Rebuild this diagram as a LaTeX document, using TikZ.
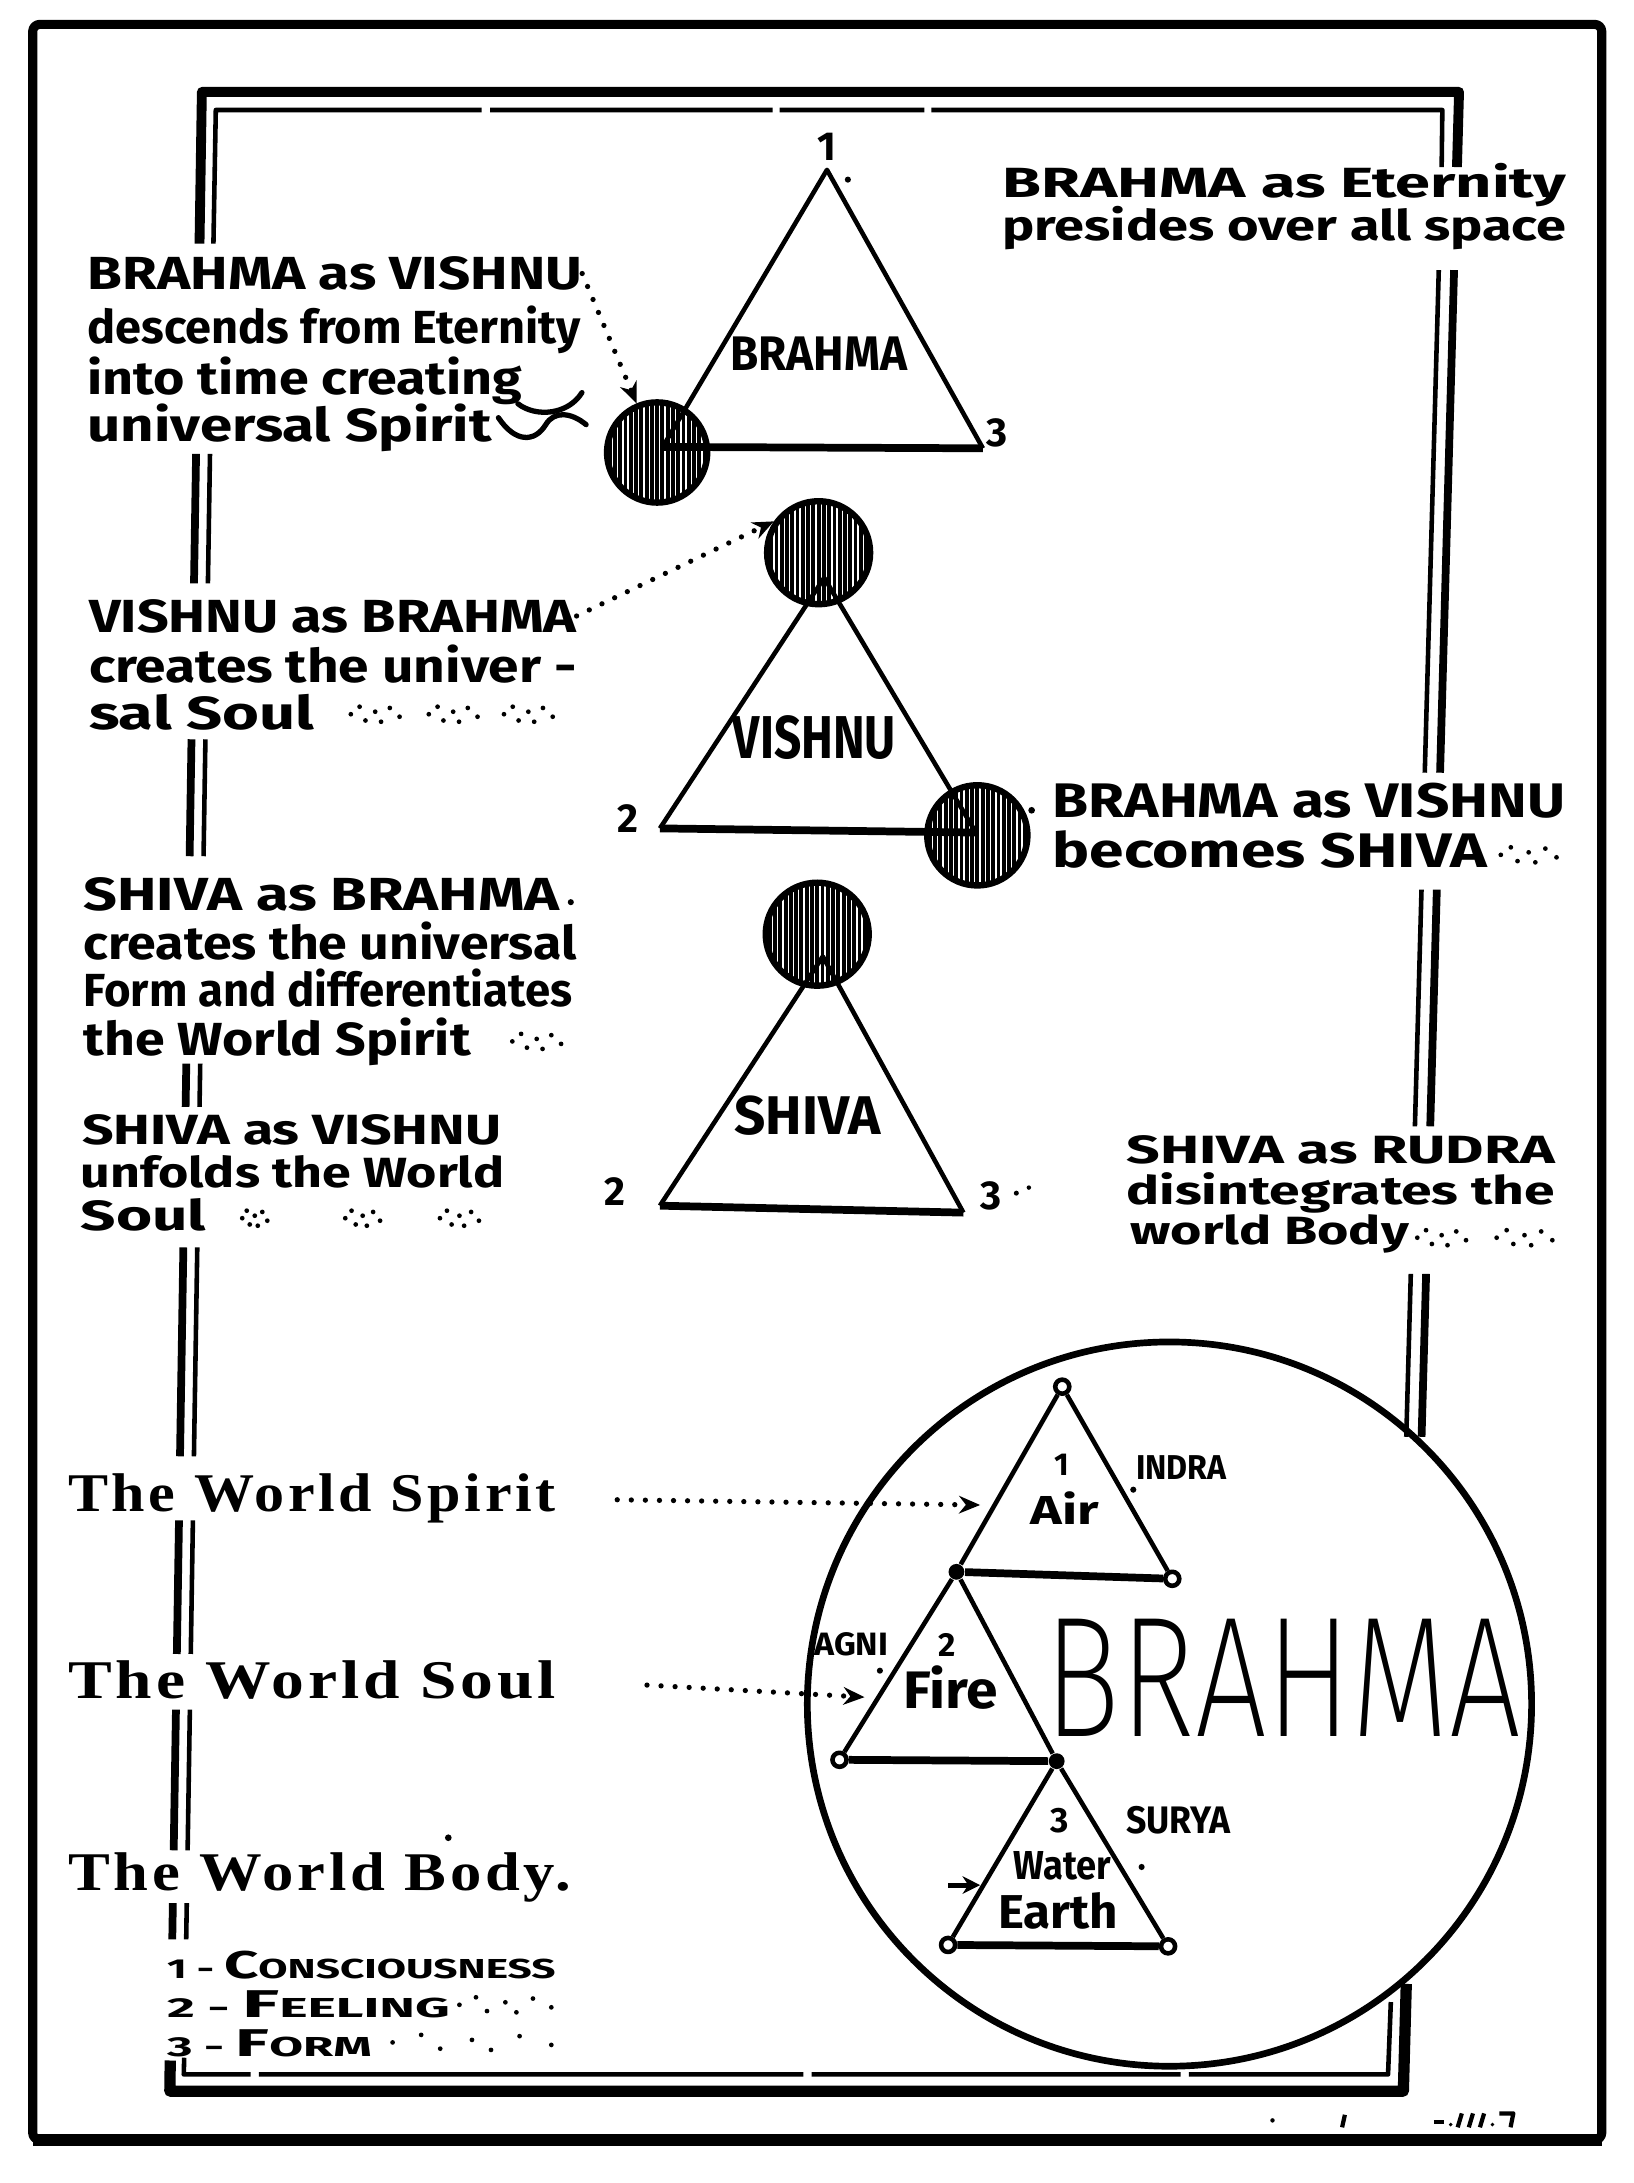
\documentclass[tikz,border=0pt]{standalone}
\usepackage{graphicx}
\usepackage{fontspec}
\setmainfont{Fira Sans}
\newfontfamily\decofont{Liberation Serif}[LetterSpace=6]
\IfFontExistsTF{Fira Sans ExtraLight}
  {\newfontfamily\thinfont{Fira Sans ExtraLight}}
  {\IfFontExistsTF{Fira Sans Light}{\newfontfamily\thinfont{Fira Sans Light}}{\newfontfamily\thinfont{Fira Sans}}}
\usetikzlibrary{arrows.meta}
\newsavebox\fitbox
\newdimen\fitdim
\newcommand\fitto[2]{\sbox\fitbox{#2}\fitdim=\wd\fitbox
  \pgfmathsetmacro\fitr{#1*0.39612/\fitdim}\scalebox{\fitr}[1]{\usebox\fitbox}}
\newcommand\fmain{\fontsize{13.2pt}{14pt}\selectfont\bfseries}
\newcommand\fsz[1]{\fontsize{#1}{#1}\selectfont\bfseries}
\newcommand\orn[3]{\foreach \f/\g in {0/0,0.18/-0.6,0.3/0.5,0.5/-0.2,0.62/0.6,0.8/-0.5,1/0.2}{\fill ({#1+\f*#3},{#2+\g*9}) circle[radius=1.7];}}
\begin{document}
\begin{tikzpicture}[x=0.013922cm, y=-0.013922cm, line join=round,
  txt/.style={anchor=base west, inner sep=0pt, outer sep=0pt, font=\fmain},
  ctxt/.style={anchor=base, inner sep=0pt, outer sep=0pt},
  frthick/.style={line width=2.8pt},
  frvert/.style={line width=2.2pt},
  frthin/.style={line width=1.3pt},
  side/.style={line width=1.3pt},
  basel/.style={line width=2.2pt},
  hatchc/.style={circle, draw, line width=1.8pt, minimum size={#1*0.39612pt}, inner sep=0pt,
     path picture={\foreach \k in {-22,...,22}{\draw[line width=1.1pt]
        ([xshift=\k*1.5pt]path picture bounding box.south) -- ([xshift=\k*1.5pt]path picture bounding box.north);}}},
  dotarrow/.style={line width=1.5pt, line cap=round, dash pattern=on 0pt off 4pt, -{Stealth[length=6pt,width=5pt]}},
  vring/.style={circle, draw, fill=white, line width=1.3pt, minimum size=4pt, inner sep=0pt},
  vdot/.style={circle, fill, minimum size=4.5pt, inner sep=0pt},
  deco/.style={line width=1.5pt, line cap=round}
]
\fill[white] (0,0) rectangle (1173,1568);
\useasboundingbox (0,0) rectangle (1173,1568);

% outer frame
\draw[line width=2.6pt, rounded corners=2pt] (23.5,17.5) rectangle (1150.5,1537);
\draw[line width=3.6pt] (23.5,1537) -- (1150.5,1537);

% inner frame
\draw[frthick] (143.3,175) -- (145,66) -- (1048,66) -- (1046.5,120);
\draw[frthin] (153.3,175) -- (155,79) -- (346,79) (352,79) -- (555,79) (560,79) -- (664,79) (669,79) -- (1036,79) -- (1035.5,120);
\foreach \ya/\yb in {326/419, 531/615, 764/795, 896/1046, 1092/1188, 1228/1329, 1367/1393}{
  \draw[frvert] ({145-0.016017*(\ya-66)},\ya) -- ({145-0.016017*(\yb-66)},\yb);
  \draw[frthin] ({155-0.016017*(\ya-66)},\ya) -- ({155-0.016017*(\yb-66)},\yb);
}
\foreach \ya/\yb in {194/555, 639/809, 915/1032}{
  \draw[frvert] ({1048-0.027855*(\ya-66)},\ya) -- ({1048-0.027855*(\yb-66)},\yb);
  \draw[frthin] ({1037-0.027855*(\ya-66)},\ya) -- ({1037-0.027855*(\yb-66)},\yb);
}
\draw[line width=3.2pt] (122.3,1480) -- (122,1502) -- (1008,1502) -- (1010.1,1425);
\draw[frthin] (132.3,1478) -- (132,1490) -- (180,1490) (186,1490) -- (577,1490) (583,1490) -- (848,1490) (854,1490) -- (997,1490) -- (999,1438);

% hatched circles
\node[hatchc=72] (h1) at (472,325) {};
\node[hatchc=74] (h2) at (588,397) {};
\node[hatchc=72] (h3) at (702,600) {};
\node[hatchc=74] (h4) at (587,671) {};

% triangle BRAHMA
\coordinate (t1a) at (594,122); \coordinate (t1l) at (476,321); \coordinate (t1r) at (706,322);
\draw[side] (t1l) -- (t1a) -- (t1r);
\draw[basel] (t1l) -- (t1r);
% triangle VISHNU
\coordinate (t2a) at (592,415); \coordinate (t2l) at (474,595); \coordinate (t2r) at (701,598);
\draw[side] (t2l) -- (t2a) -- (t2r);
\draw[basel] (t2l) -- (t2r);
% triangle SHIVA
\coordinate (t3a) at (591,687); \coordinate (t3l) at (474,866); \coordinate (t3r) at (692,871);
\draw[side] (t3l) -- (t3a) -- (t3r);
\draw[basel] (t3l) -- (t3r);

% triangle labels
\node[ctxt, font=\fsz{13.8pt}] (l1) at (588,266) {\fitto{127}{BRAHMA}};
\node[ctxt, font=\fsz{17.2pt}] (l2) at (585,545) {\fitto{117}{VISHNU}};
\node[ctxt, font=\fsz{15.5pt}] (l3) at (580,815) {\fitto{105}{SHIVA}};
\node[ctxt, font=\fsz{11.5pt}] (n11) at (594,115) {1};
\node[ctxt, font=\fsz{11.5pt}] (n13) at (716,321) {3};
\node[ctxt, font=\fsz{11.5pt}] (n22) at (451,598) {2};
\node[ctxt, font=\fsz{11.5pt}] (n32) at (442,866) {2};
\node[ctxt, font=\fsz{11.5pt}] (n33) at (712,869) {3};
\fill (609,129) circle[radius=2.2];
\fill (730,857) circle[radius=1.8]; \fill (739,853) circle[radius=1.6];
\fill (741,582) circle[radius=2.4];
\fill (410,648) circle[radius=2.2];

% left text blocks
\node[txt] (b1a) at (63,208) {\fitto{355}{BRAHMA as VISHNU}};
\node[txt] (b1b) at (63,247) {\fitto{354}{descends from Eternity}};
\node[txt] (b1c) at (63,283) {\fitto{312}{into time creating}};
\node[txt] (b1d) at (63,317) {\fitto{290}{universal Spirit}};
\draw[deco] (372,290) .. controls (385,300) and (408,298) .. (418,282);
\draw[deco] (358,300) .. controls (370,318) and (384,318) .. (392,305) .. controls (398,295) and (410,296) .. (421,305);

\node[txt] (b2a) at (64,454) {\fitto{350}{VISHNU as BRAHMA}};
\node[txt] (b2b) at (64,490) {\fitto{350}{creates the univer -}};
\node[txt] (b2c) at (64,524) {\fitto{162}{sal Soul}};
\orn{252}{513}{35} \orn{308}{513}{35} \orn{362}{513}{35}

\node[txt] (b3a) at (60,654) {\fitto{342}{SHIVA as BRAHMA}};
\node[txt] (b3b) at (60,689) {\fitto{354}{creates the universal}};
\node[txt] (b3c) at (60,723) {\fitto{351}{Form and differentiates}};
\node[txt] (b3d) at (60,758) {\fitto{278}{the World Spirit}};
\orn{368}{748}{35}

\node[txt, font=\fsz{12pt}] (b4a) at (59,822) {\fitto{301}{SHIVA as VISHNU}};
\node[txt, font=\fsz{12pt}] (b4b) at (58,853) {\fitto{304}{unfolds the World}};
\node[txt, font=\fsz{12pt}] (b4c) at (58,884) {\fitto{90}{Soul}};
\orn{174}{875}{18} \orn{248}{875}{25} \orn{316}{875}{28}

% right text blocks
\node[txt, font=\fsz{12pt}] (r1a) at (720,142) {\fitto{405}{BRAHMA as Eternity}};
\node[txt, font=\fsz{12pt}] (r1b) at (720,173) {\fitto{405}{presides over all space}};
\node[txt, font=\fsz{13.8pt}] (r2a) at (756,587) {\fitto{368}{BRAHMA as VISHNU}};
\node[txt, font=\fsz{13.8pt}] (r2b) at (756,623) {\fitto{312}{becomes SHIVA}};
\orn{1078}{614}{40}
\node[txt, font=\fsz{11.2pt}] (r3a) at (809,836) {\fitto{308}{SHIVA as RUDRA}};
\node[txt, font=\fsz{11.2pt}] (r3b) at (809,865) {\fitto{308}{disintegrates the}};
\node[txt, font=\fsz{11.2pt}] (r3c) at (812,894) {\fitto{200}{world Body}};
\orn{1018}{889}{35} \orn{1075}{889}{40}

% arrows to circles
\draw[dotarrow] (b1a.east) -- (h1);
\draw[dotarrow] (b2a.east) -- (h2.145);

% world texts
\node[txt, font={\decofont\bfseries\fontsize{15.5pt}{16pt}\selectfont}] (ws) at (49,1086) {\fitto{350}{The World Spirit}};
\node[txt, font={\decofont\bfseries\fontsize{15.5pt}{16pt}\selectfont}] (wso) at (49,1220) {\fitto{350}{The World Soul}};
\node[txt, font={\decofont\bfseries\fontsize{15.5pt}{16pt}\selectfont}] (wb) at (49,1358) {\fitto{361}{The World Body.}};
\fill (322,1320) circle[radius=2.4];

% legend
\node[txt] (g1) at (120,1421) {\fitto{279}{{\fsz{7.8pt}1 - }{\fsz{11pt}C}{\fsz{7.8pt}ONSCIOUSNESS}}};
\node[txt] (g2) at (120,1449) {\fitto{203}{{\fsz{7.8pt}2 - }{\fsz{11pt}F}{\fsz{7.8pt}EELING}}};
\node[txt] (g3) at (120,1477) {\fitto{147}{{\fsz{7.8pt}3 - }{\fsz{11pt}F}{\fsz{7.8pt}ORM}}};
\orn{330}{1440}{66} \orn{282}{1467}{114}

% big circle
\node[circle, draw, line width=1.9pt, minimum size={520*0.39612pt}, inner sep=0pt] (big) at (840,1224) {};
\node[vring] (A1) at (763,996) {};
\node[vdot] (A2) at (687,1129) {};
\node[vring] (A3) at (842,1134) {};
\node[vring] (F2) at (603,1264) {};
\node[vdot] (F3) at (759,1265) {};
\node[vring] (E2) at (681,1397) {};
\node[vring] (E3) at (839,1398) {};
\draw[side] (A2) -- (A1) -- (A3);
\draw[basel] (A2) -- (A3);
\draw[side] (F3) -- (A2) -- (F2);
\draw[basel] (F2) -- (F3);
\draw[side] (E2) -- (F3) -- (E3);
\draw[basel] (E2) -- (E3);

\node[ctxt, font=\fsz{9pt}] (c1) at (763,1060) {1};
\node[ctxt, font=\fsz{11.5pt}] (air) at (765,1095) {\fitto{49}{Air}};
\node[ctxt, font=\fsz{9.5pt}] (c2) at (680,1190) {2};
\node[ctxt, font=\fsz{15pt}] (fire) at (683,1227) {\fitto{68}{Fire}};
\node[ctxt, font=\fsz{10pt}] (c3) at (761,1316) {3};
\node[ctxt, font=\fsz{11.5pt}] (water) at (763,1350) {\fitto{70}{Water}};
\node[ctxt, font=\fsz{13.5pt}] (earth) at (760,1385) {\fitto{86}{Earth}};
\node[txt, font=\fsz{9.8pt}] (indra) at (816,1063) {\fitto{65}{INDRA}};
\node[txt, font=\fsz{9.2pt}] (agni) at (585,1189) {\fitto{53}{AGNI}};
\node[txt, font=\fsz{10.9pt}] (surya) at (809,1317) {\fitto{75}{SURYA}};
\fill (814,1070) circle[radius=2.2];
\fill (632,1200) circle[radius=2.2];
\fill (820,1341) circle[radius=2.2];

\node[anchor=base west, inner sep=0pt, font={\thinfont\fontsize{48.8pt}{50pt}\selectfont}] (bigB) at (750,1247) {\fitto{342}{BRAHMA}};

% world arrows
\coordinate (wsE) at (704,1081);
\coordinate (wsoE) at (621,1219);
\draw[dotarrow, shorten <=17.5pt] (ws.east) -- (wsE);
\draw[dotarrow, shorten <=26pt] (wso.east) -- (wsoE);
\coordinate (wbS) at (681,1354);
\coordinate (wbE) at (704,1354);
\draw[line width=1.4pt, -{Stealth[length=5pt,width=5pt]}] (wbS) -- (wbE);

% signature marks
\fill (914,1523) circle[radius=1.6];
\draw[line width=1.2pt] (966,1519) -- (964,1528);
\draw[line width=1.2pt] (1030,1524) -- (1037,1524);
\draw[line width=1.2pt] (1050,1518) -- (1047,1528) (1058,1518) -- (1055,1528) (1066,1518) -- (1063,1528);
\fill (1042,1526) circle[radius=1.4]; \fill (1072,1526) circle[radius=1.4];
\draw[line width=1.2pt] (1077,1518) -- (1087,1518) -- (1085,1528);
\end{tikzpicture}
\end{document}
